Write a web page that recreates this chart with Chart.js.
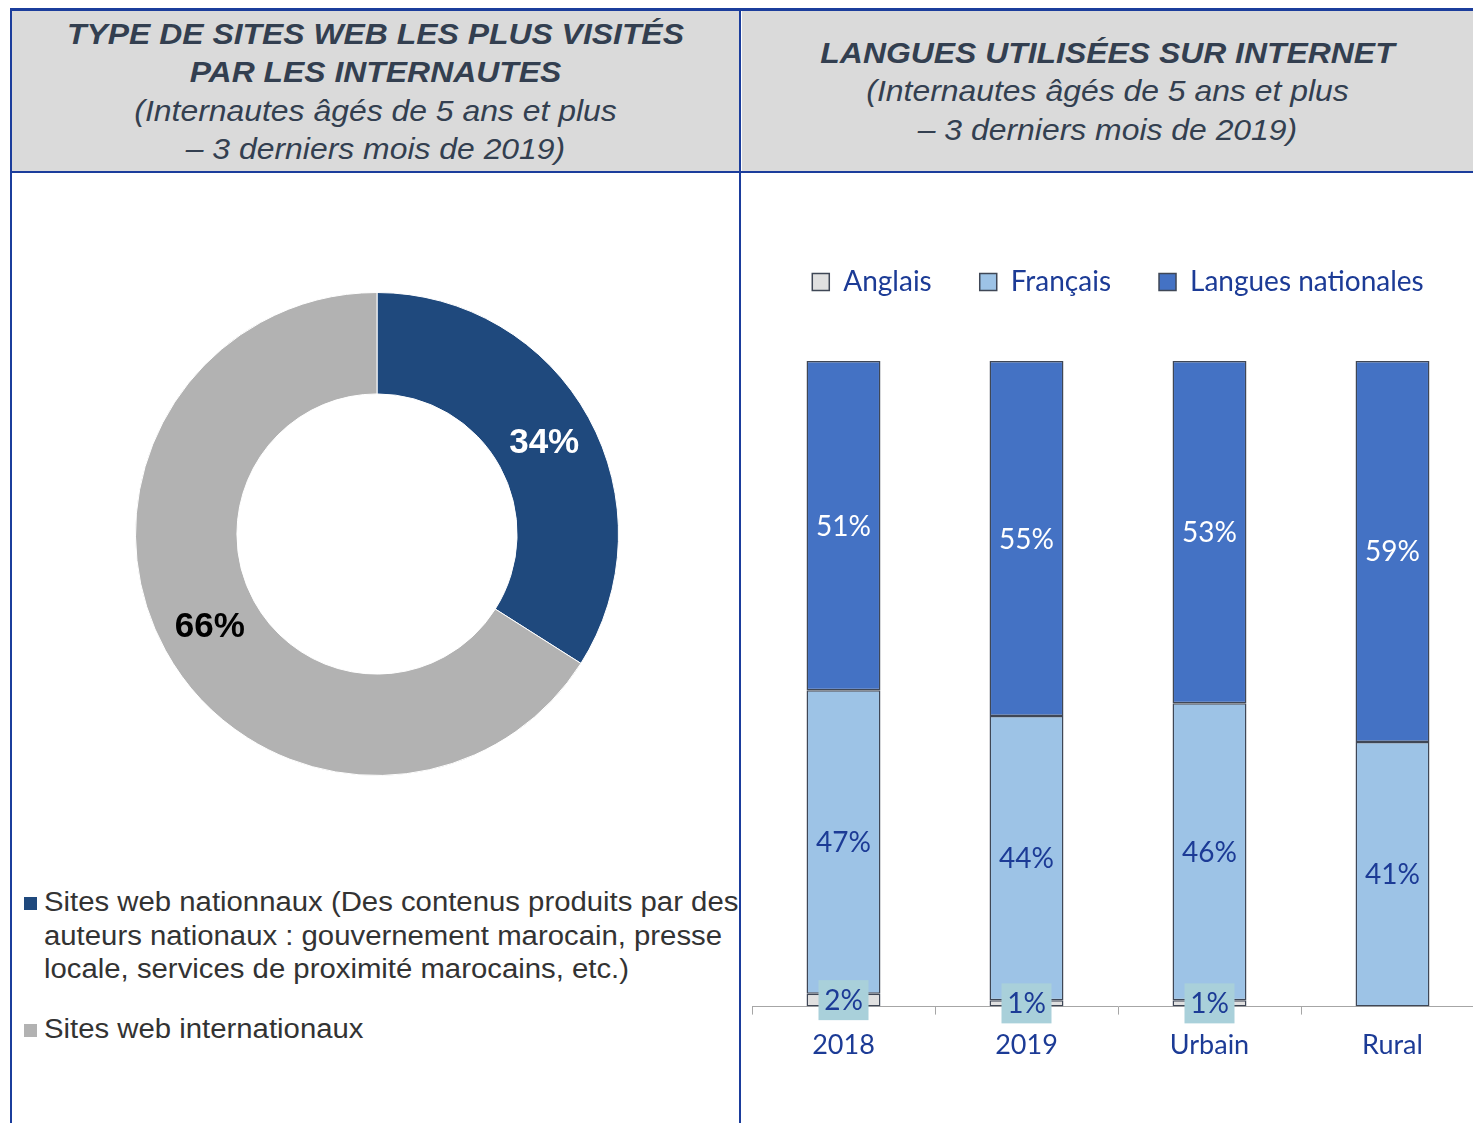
<!DOCTYPE html>
<html lang="fr">
<head>
    <meta charset="UTF-8">
    <title>Sites web et langues utilisées sur Internet</title>
    <script src="https://cdn.jsdelivr.net/npm/chart.js@4.4.0/dist/chart.umd.min.js"></script>
    <style>
        body {
            margin: 0;
            width: 1473px;
            height: 1123px;
            overflow: hidden;
            position: relative;
            background: #fff;
            font-family: "Liberation Sans", Arial, sans-serif;
        }
        .line { position: absolute; background: #1b3d9c; }
        .head {
            position: absolute;
            top: 11px;
            height: 160px;
            background: #dadada;
        }
        .head div {
            position: absolute;
            left: 0;
            right: 0;
            text-align: center;
            color: #333f50;
            font-size: 29px;
            line-height: 38.3px;
            font-style: italic;
            transform: scaleX(1.1);
        }
        .head b { font-weight: bold; }
        canvas { position: absolute; }
        #pieLegend {
            position: absolute;
            left: 24px;
            top: 886px;
            color: #333;
            font-size: 27px;
            line-height: 33.5px;
        }
        .item { position: relative; padding-left: 20px; margin-bottom: 26px; white-space: pre-line; }
        .txt { display: inline-block; transform: scaleX(1.086); transform-origin: left; }
        .sq { position: absolute; left: 0; top: 11px; width: 13px; height: 13px; }
    </style>
</head>
<body>
    <div class="head" style="left:12px; width:727px">
        <div style="top:4px"><b>TYPE DE SITES WEB LES PLUS VISITÉS<br>PAR LES INTERNAUTES</b><br>(Internautes âgés de 5 ans et plus<br>– 3 derniers mois de 2019)</div>
    </div>
    <div class="head" style="left:742px; width:731px">
        <div style="top:23px"><b>LANGUES UTILISÉES SUR INTERNET</b><br>(Internautes âgés de 5 ans et plus<br>– 3 derniers mois de 2019)</div>
    </div>
    <div class="line" style="left:10px; top:8px; width:1463px; height:3px"></div>
    <div class="line" style="left:10px; top:8px; width:2px; height:1115px"></div>
    <div class="line" style="left:739px; top:8px; width:2px; height:1115px"></div>
    <div class="line" style="left:10px; top:171px; width:1463px; height:2px"></div>

    <canvas id="pieChart" width="484" height="484" style="left:135px; top:292px"></canvas>
    <div id="pieLegend"></div>
    <canvas id="barChart" width="752" height="855" style="left:742px; top:220px"></canvas>

    <script>
        // left: type of sites visited
        const siteLabels = [
            'Sites web nationnaux (Des contenus produits par des\nauteurs nationaux : gouvernement marocain, presse\nlocale, services de proximité marocains, etc.)',
            'Sites web internationaux'
        ];
        const siteValues = [34, 66];
        const siteColors = ['#1f497d', '#b2b2b2'];
        const siteLabelColors = ['#ffffff', '#000000'];

        // right: languages used
        const groups = ['2018', '2019', 'Urbain', 'Rural'];
        const anglais = [2, 1, 1, 0];
        const francais = [47, 44, 46, 41];
        const nationales = [51, 55, 53, 59];

        const darkBlue = '#1c3b96';

        // draws "xx%" in the middle of each arc / bar segment
        const valueLabels = {
            id: 'valueLabels',
            afterDatasetsDraw(chart, args, opts) {
                const ctx = chart.ctx;
                ctx.save();
                ctx.font = opts.font;
                ctx.textAlign = 'center';
                ctx.textBaseline = 'middle';
                chart.data.datasets.forEach((ds, di) => {
                    const meta = chart.getDatasetMeta(di);
                    meta.data.forEach((el, i) => {
                        const v = ds.data[i];
                        if (!v) return;
                        const p = el.getCenterPoint();
                        const box = opts.box ? opts.box(di) : null;
                        if (box) {
                            ctx.fillStyle = box;
                            ctx.fillRect(p.x - 25, p.y - 20, 50, 40);
                        }
                        ctx.fillStyle = opts.color(di, i);
                        ctx.fillText(v + '%', p.x, p.y + 1);
                    });
                });
                ctx.restore();
            }
        };

        const pieChart = new Chart(document.getElementById('pieChart'), {
            type: 'doughnut',
            data: {
                labels: siteLabels,
                datasets: [{
                    data: siteValues,
                    backgroundColor: siteColors,
                    borderColor: '#ffffff',
                    borderWidth: 1
                }]
            },
            options: {
                responsive: false,
                animation: false,
                cutout: '58%',
                plugins: {
                    legend: { display: false },
                    tooltip: { enabled: false },
                    valueLabels: {
                        font: 'bold 35px "Liberation Sans", Arial, sans-serif',
                        color: (di, i) => siteLabelColors[i]
                    }
                }
            },
            plugins: [valueLabels]
        });

        // html legend for the doughnut (the long label wraps)
        const pieLegend = document.getElementById('pieLegend');
        siteLabels.forEach((lab, i) => {
            const item = document.createElement('div');
            item.className = 'item';
            item.innerHTML = '<span class="sq" style="background:' + siteColors[i] + '"></span>';
            const txt = document.createElement('span');
            txt.className = 'txt';
            txt.textContent = lab;
            item.appendChild(txt);
            pieLegend.appendChild(item);
        });

        // leave room between the legend and the bars
        const legendGap = {
            id: 'legendGap',
            beforeInit(chart) {
                const fit = chart.legend.fit;
                chart.legend.fit = function () {
                    fit.bind(chart.legend)();
                    this.height = 141;
                };
            }
        };

        const barChart = new Chart(document.getElementById('barChart'), {
            type: 'bar',
            data: {
                labels: groups,
                datasets: [{
                    label: 'Anglais',
                    data: anglais,
                    backgroundColor: '#e0e0e0',
                    borderColor: '#3f4756',
                    borderWidth: 1.5,
                    borderSkipped: false
                }, {
                    label: 'Français',
                    data: francais,
                    backgroundColor: '#9dc3e6',
                    borderColor: '#3f4756',
                    borderWidth: 1.5,
                    borderSkipped: false
                }, {
                    label: 'Langues nationales',
                    data: nationales,
                    backgroundColor: '#4472c4',
                    borderColor: '#3f4756',
                    borderWidth: 1.5,
                    borderSkipped: false
                }]
            },
            options: {
                responsive: false,
                animation: false,
                layout: { padding: { left: 10, right: 10 } },
                datasets: {
                    bar: { categoryPercentage: 1, barPercentage: 0.404 }
                },
                scales: {
                    x: {
                        stacked: true,
                        grid: { display: true, drawOnChartArea: false, offset: true, tickLength: 8, color: '#a6a6a6' },
                        border: { display: true, color: '#a6a6a6' },
                        ticks: { color: darkBlue, padding: 14, font: { family: 'Lato', size: 27 } }
                    },
                    y: {
                        stacked: true,
                        display: false,
                        min: 0,
                        max: 100
                    }
                },
                plugins: {
                    legend: {
                        position: 'top',
                        labels: {
                            boxWidth: 17,
                            boxHeight: 17,
                            padding: 48,
                            color: darkBlue,
                            font: { family: 'Lato', size: 28 }
                        }
                    },
                    tooltip: { enabled: false },
                    valueLabels: {
                        font: '28px Lato, sans-serif',
                        color: (di) => di === 2 ? '#ffffff' : darkBlue,
                        box: (di) => di === 0 ? '#a9d0da' : null
                    }
                }
            },
            plugins: [valueLabels, legendGap]
        });
    </script>
</body>
</html>
